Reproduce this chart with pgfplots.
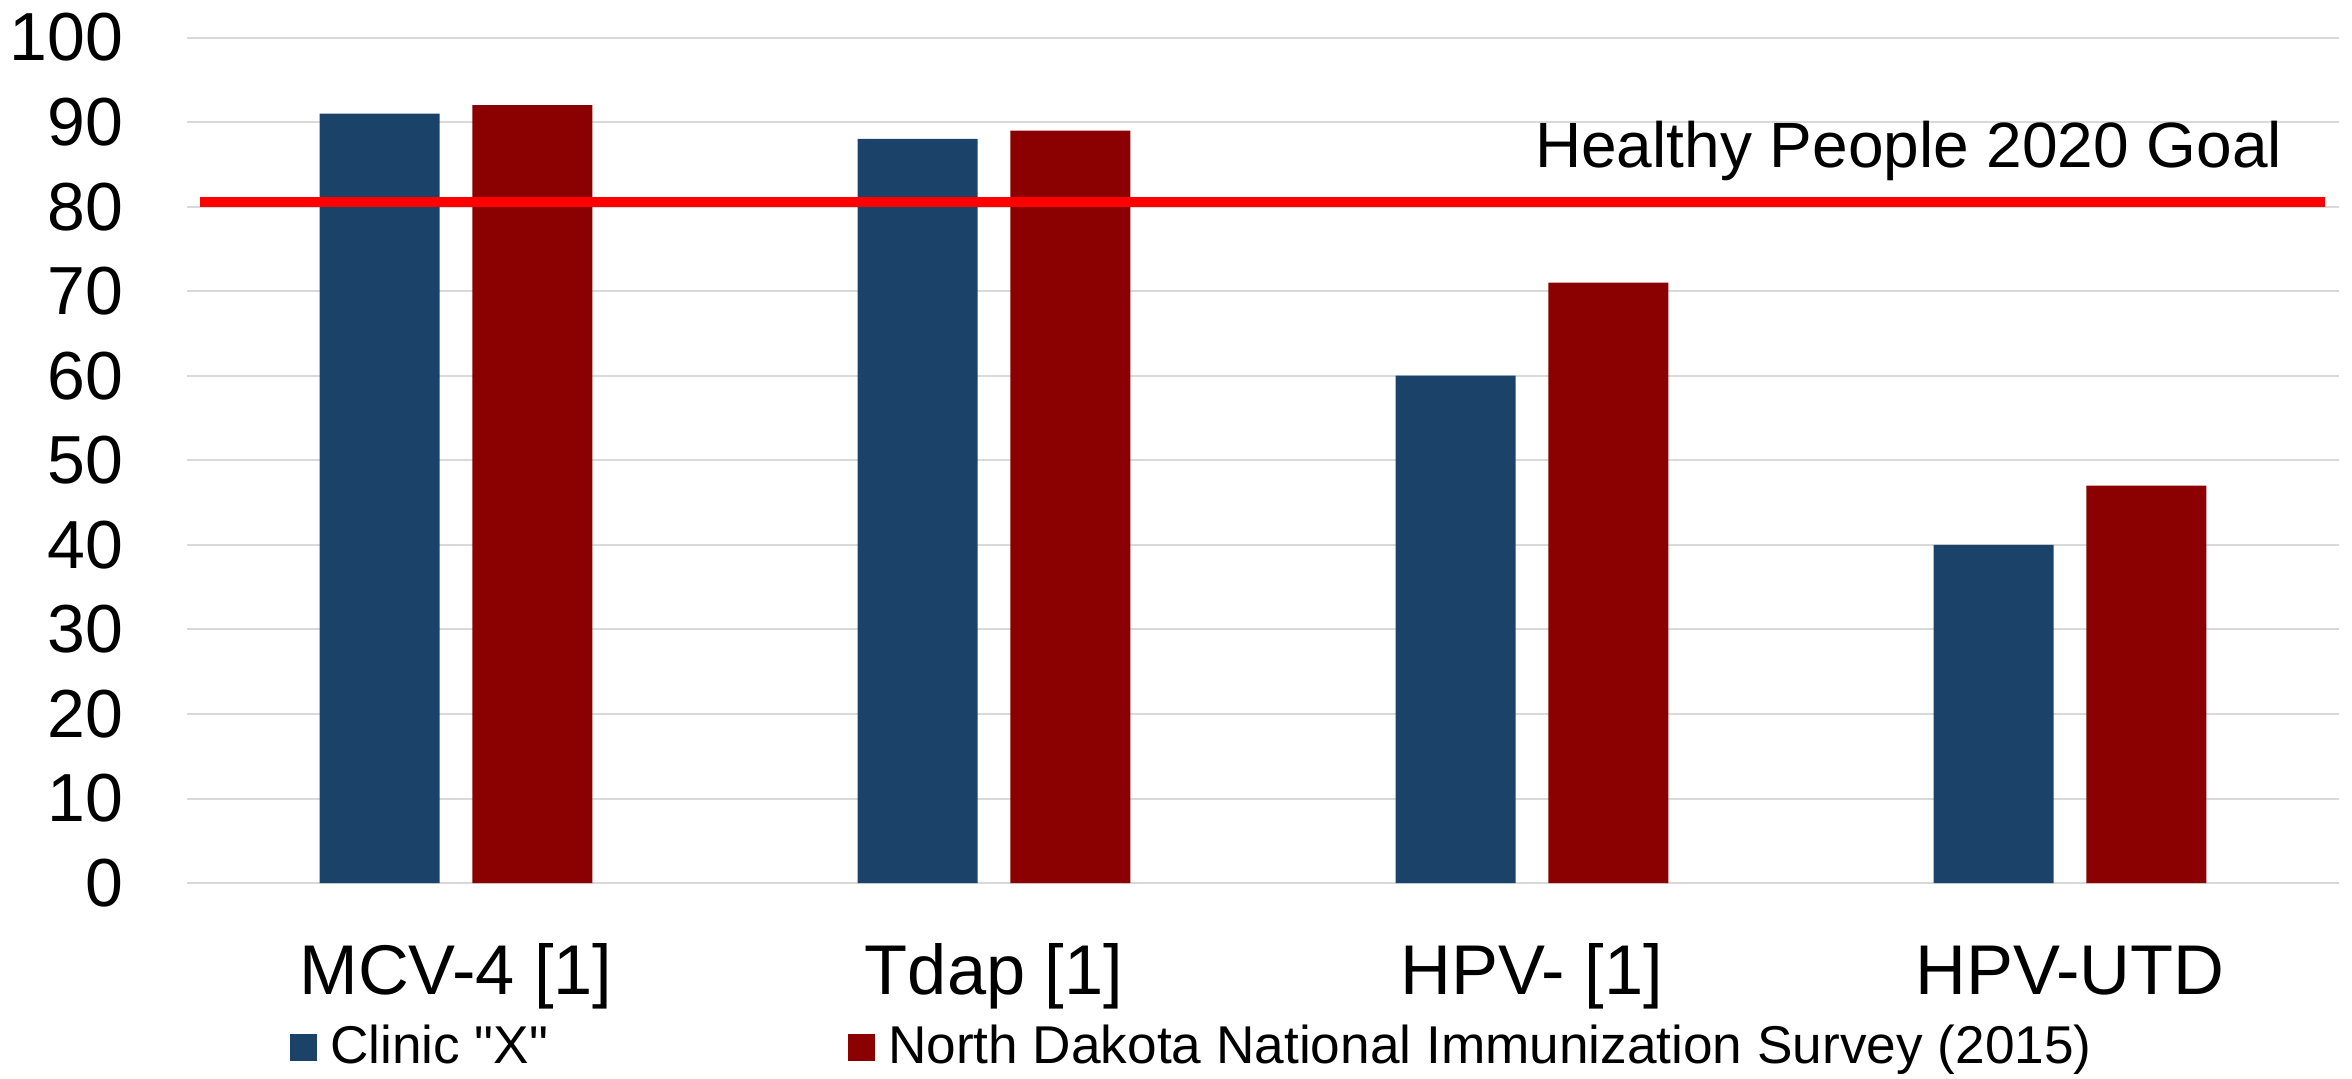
\documentclass[border=0pt]{standalone}
\usepackage{fontspec}
\setmainfont{Liberation Sans}
\newfontfamily\rawfont{Liberation Sans}
\usepackage{pgfplots}
\pgfplotsset{compat=1.18}
\definecolor{clinic}{HTML}{1B4369}
\definecolor{nd}{HTML}{8B0000}
\definecolor{gridc}{HTML}{D9D9D9}
\pgfplotsset{sqlegend/.style={legend image code/.code={\fill[##1] (0pt,-3.375pt) rectangle (6.75pt,3.375pt);}}}
\begin{document}
\begin{tikzpicture}
\begin{axis}[
  scale only axis, width=538pt, height=211.4pt,
  xmin=-0.5, xmax=3.5, ymin=0, ymax=100,
  xtick={0,1,2,3}, xticklabels={MCV-4 [1], Tdap [1], HPV- [1], HPV-UTD},
  ytick={0,10,...,100},
  ymajorgrids, major grid style={gridc, line width=0.5pt},
  axis line style={draw=none},
  major tick length=0pt,
  tick label style={font=\fontsize{17}{19}\selectfont},
  xticklabel style={font=\fontsize{17.6}{19}\selectfont, anchor=base, yshift=-27.75pt},
  yticklabel style={xshift=-12.4pt},
  /pgf/number format/assume math mode=true,
  legend columns=2,
  legend style={at={(0.0479,-0.194)}, anchor=west, draw=none, fill=none,
    inner sep=0pt, outer sep=0pt, font=\fontsize{13.3}{15}\selectfont,
    nodes={inner sep=0pt},
    /tikz/every odd column/.append style={column sep=3.25pt},
    /tikz/every even column/.append style={column sep=75pt}},
  legend cell align=left,
  clip=false,
]
\addplot[ybar, bar width=30pt, bar shift=-19.1pt, fill=clinic, draw=none, sqlegend]
  coordinates {(0,91) (1,88) (2,60) (3,40)};
\addlegendentry{{\rawfont Clinic "X"}}
\addplot[ybar, bar width=30pt, bar shift=19.1pt, fill=nd, draw=none, sqlegend]
  coordinates {(0,92) (1,89) (2,71) (3,47)};
\addlegendentry{North Dakota National Immunization Survey (2015)}
\addplot[color={rgb,255:red,255;green,0;blue,0}, line width=2.5pt, forget plot]
  coordinates {(-0.476,80.6) (3.474,80.6)};
\node[anchor=base east, font=\fontsize{16}{18}\selectfont, inner sep=0pt] at (axis cs:3.396,84.6) {Healthy People 2020 Goal};
\end{axis}
\pgfresetboundingbox
\path[use as bounding box] ([xshift=-46.75pt,yshift=-48.75pt]current axis.south west) rectangle ([xshift=3.25pt,yshift=9.375pt]current axis.north east);
\end{tikzpicture}
\end{document}
